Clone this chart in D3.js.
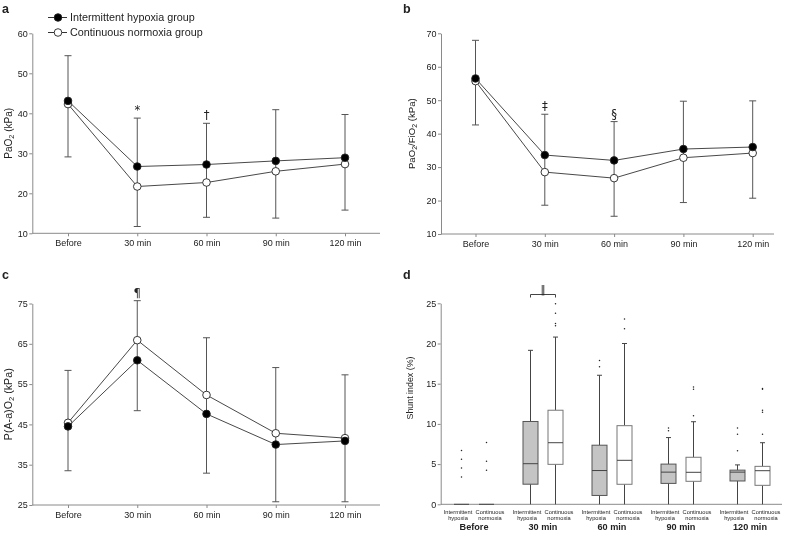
<!DOCTYPE html>
<html><head><meta charset="utf-8">
<script src="https://cdn.jsdelivr.net/npm/d3@7"></script>
<style>
body{margin:0;background:#fff}
svg{display:block;will-change:transform}
text{font-family:"Liberation Sans",Arimo,Arial,sans-serif;fill:#222}
.sym{font-family:"DejaVu Sans",sans-serif}
</style>
</head><body>
<svg id="chart" width="788" height="539"></svg>
<script>
// ---------- DATA ----------
const timepoints = ["Before", "30 min", "60 min", "90 min", "120 min"];
const groups = ["Intermittent hypoxia group", "Continuous normoxia group"];

// Panel a: PaO2 (kPa)
const paO2_IH = [43.1, 26.7, 27.2, 28.1, 28.9];
const paO2_CN = [42.3, 21.7, 22.7, 25.5, 27.3];
const paO2_errHigh = [54.4, 38.8, 37.5, 40.9, 39.7];
const paO2_errLow = [29.1, 11.7, 14.0, 13.8, 15.8];
const paO2_ticks = [10, 20, 30, 40, 50, 60];
const paO2_marks = ["", "*", "\u2020", "", ""];

// Panel b: PaO2/FiO2 (kPa)
const pf_IH = [56.5, 33.6, 32.0, 35.4, 36.0];
const pf_CN = [55.7, 28.5, 26.7, 32.8, 34.2];
const pf_errHigh = [67.9, 45.8, 43.6, 49.7, 49.8];
const pf_errLow = [42.6, 18.6, 15.3, 19.4, 20.7];
const pf_ticks = [10, 20, 30, 40, 50, 60, 70];
const pf_marks = ["", "\u2021", "\u00a7", "", ""];

// Panel c: P(A-a)O2 (kPa)
const aa_IH = [44.5, 60.9, 47.6, 40.0, 40.9];
const aa_CN = [45.4, 65.9, 52.3, 42.8, 41.6];
const aa_errHigh = [58.4, 75.7, 66.5, 59.1, 57.3];
const aa_errLow = [33.5, 48.4, 32.9, 25.8, 25.8];
const aa_ticks = [25, 35, 45, 55, 65, 75];
const aa_marks = ["", "\u00b6", "", "", ""];

// Panel d: Shunt index (%) box plots
const shunt_ticks = [0, 5, 10, 15, 20, 25];
const boxLabels = [["Intermittent", "hypoxia"], ["Continuous", "normoxia"]];
const shuntIH_wLow = [0, 0, 0, 0, 0];
const shuntIH_q1 = [0, 2.5, 1.1, 2.6, 2.9];
const shuntIH_med = [0, 5.05, 4.2, 4.0, 4.0];
const shuntIH_q3 = [0, 10.3, 7.35, 5.0, 4.25];
const shuntIH_wHigh = [0, 19.15, 16.05, 8.3, 4.9];
const shuntIH_out = [[6.7, 5.6, 4.5, 3.4], [], [17.9, 17.1], [9.5, 9.15], [9.5, 8.7, 6.65]];
const shuntCN_wLow = [0, 0, 0, 0, 0];
const shuntCN_q1 = [0, 4.97, 2.49, 2.86, 2.36];
const shuntCN_med = [0, 7.66, 5.47, 3.98, 4.18];
const shuntCN_q3 = [0, 11.7, 9.78, 5.85, 4.72];
const shuntCN_wHigh = [0, 20.8, 20.0, 10.27, 7.66];
const shuntCN_out = [[7.7, 5.35, 4.25], [24.95, 23.75, 22.5, 22.2], [23.05, 21.85], [14.6, 14.3, 11.0], [14.4, 14.3, 11.7, 11.45, 8.7]];
const shunt_sigPair = ["30 min", "\u2016"];

// ---------- DRAW ----------
const svg = d3.select("#chart");
const AXIS = "#8a8a8a", LINE = "#333", ERR = "#555";

// scale a text selection's font-size so the first node spans the wanted width
function fit(sel, width) {
  const n = sel.node();
  if (!n) return;
  const fs = parseFloat(n.getAttribute("font-size")) || 10;
  const w = n.getComputedTextLength();
  if (w > 0) {
    const k = width / w;
    sel.each(function () {
      const f = parseFloat(this.getAttribute("font-size")) || fs;
      this.setAttribute("font-size", (f * k).toFixed(2));
      d3.select(this).selectAll("tspan").each(function () {
        const tf = this.getAttribute("font-size");
        if (tf) this.setAttribute("font-size", (parseFloat(tf) * k).toFixed(2));
      });
    });
  }
}

function yTitle(g, x, y, parts, width) {
  const t = g.append("text").attr("transform", `translate(${x},${y}) rotate(-90)`)
    .attr("text-anchor", "middle").attr("font-size", 10.5);
  parts.forEach(p => {
    if (p.sub) t.append("tspan").attr("font-size", 7.5).attr("dy", 2).text(p.t);
    else t.append("tspan").attr("dy", p.after ? -2 : 0).text(p.t);
  });
  fit(t, width);
}

function panelLetter(x, y, s) {
  svg.append("text").attr("x", x).attr("y", y).attr("font-size", 12.5)
    .attr("font-weight", "bold").text(s);
}

const tickTexts = [];

function linePanel(o) {
  const g = svg.append("g");
  const x = d3.scalePoint().domain(timepoints).range(o.xRange);
  const y = d3.scaleLinear().domain(o.yDomain).range(o.yRange);
  const ya = g.append("g").attr("transform", `translate(${o.axisX[0]},0)`)
    .call(d3.axisLeft(y).tickValues(o.ticks).tickSizeInner(3).tickSizeOuter(0).tickPadding(1.5));
  ya.selectAll("path,line").attr("stroke", AXIS);
  ya.selectAll("text").attr("font-size", 9).attr("fill", "#333");
  const xa = g.append("g").attr("transform", `translate(0,${o.yRange[0]})`)
    .call(d3.axisBottom(x).tickSizeInner(3).tickSizeOuter(0).tickPadding(3.5));
  xa.select(".domain").remove();
  xa.selectAll("line").attr("stroke", AXIS);
  xa.selectAll("text").attr("font-size", 9).attr("fill", "#333");
  ya.attr("font-family", null); xa.attr("font-family", null);
  tickTexts.push(ya.selectAll("text"), xa.selectAll("text"));
  g.append("line").attr("x1", o.axisX[0]).attr("x2", o.axisX[1])
    .attr("y1", o.yRange[0]).attr("y2", o.yRange[0]).attr("stroke", AXIS);

  timepoints.forEach((t, i) => {
    const cx = x(t);
    g.append("line").attr("x1", cx).attr("x2", cx).attr("y1", y(o.lo[i])).attr("y2", y(o.hi[i]))
      .attr("stroke", ERR).attr("stroke-width", 1);
    [o.lo[i], o.hi[i]].forEach(v => g.append("line").attr("x1", cx - 3.5).attr("x2", cx + 3.5)
      .attr("y1", y(v)).attr("y2", y(v)).attr("stroke", ERR).attr("stroke-width", 1));
    if (o.marks[i]) g.append("text").attr("class", "sym").attr("x", cx).attr("y", y(o.hi[i]) - 4)
      .attr("text-anchor", "middle").attr("font-size", 11.5).attr("fill", "#333").text(o.marks[i]);
  });
  const line = d3.line().x((d, i) => x(timepoints[i])).y(d => y(d));
  [o.cn, o.ih].forEach(s => {
    g.append("path").attr("d", line(s)).attr("fill", "none").attr("stroke", LINE).attr("stroke-width", 0.9);
  });
  [o.cn, o.ih].forEach((s, k) => {
    g.selectAll(null).data(s).enter().append("circle")
      .attr("cx", (d, i) => x(timepoints[i])).attr("cy", d => y(d)).attr("r", 3.8)
      .attr("fill", k === 1 ? "#000" : "#fff").attr("stroke", "#222").attr("stroke-width", 0.9);
  });
  yTitle(g, o.titleX, (o.yRange[0] + o.yRange[1]) / 2, o.title, o.titleW);
  return g;
}

linePanel({xRange: [68, 345], axisX: [32.3, 380], yDomain: [10, 60], yRange: [233.3, 33.3],
  ticks: paO2_ticks, ih: paO2_IH, cn: paO2_CN, hi: paO2_errHigh, lo: paO2_errLow, marks: paO2_marks,
  titleX: 11.5, titleW: 51, title: [{t: "PaO"}, {t: "2", sub: true}, {t: " (kPa)", after: true}]});
linePanel({xRange: [475.5, 752.7], axisX: [441, 774], yDomain: [10, 70], yRange: [234, 33.3],
  ticks: pf_ticks, ih: pf_IH, cn: pf_CN, hi: pf_errHigh, lo: pf_errLow, marks: pf_marks,
  titleX: 415, titleW: 71, title: [{t: "PaO"}, {t: "2", sub: true}, {t: "/FiO", after: true}, {t: "2", sub: true}, {t: " (kPa)", after: true}]});
linePanel({xRange: [68, 345], axisX: [32.3, 380], yDomain: [25, 75], yRange: [505, 303.5],
  ticks: aa_ticks, ih: aa_IH, cn: aa_CN, hi: aa_errHigh, lo: aa_errLow, marks: aa_marks,
  titleX: 11.5, titleW: 72, title: [{t: "P(A-a)O"}, {t: "2", sub: true}, {t: " (kPa)", after: true}]});

// legend (panel a)
const legTexts = [];
groups.forEach((name, k) => {
  const ly = 17.5 + k * 15;
  svg.append("line").attr("x1", 48).attr("x2", 67).attr("y1", ly).attr("y2", ly).attr("stroke", LINE);
  svg.append("circle").attr("cx", 58).attr("cy", ly).attr("r", 3.8)
    .attr("fill", k === 0 ? "#000" : "#fff").attr("stroke", "#222").attr("stroke-width", 0.9);
  legTexts.push(svg.append("text").attr("x", 70).attr("y", ly + 3.8).attr("font-size", 10.8).attr("fill", "#222").text(name).node());
});
fit(d3.selectAll(legTexts), 125);

panelLetter(2, 13, "a");
panelLetter(403, 13, "b");
panelLetter(2, 279, "c");
panelLetter(403, 279, "d");

// ---------- Panel d ----------
(function () {
  const g = svg.append("g");
  const xg = d3.scalePoint().domain(timepoints).range([474, 750]);
  const y = d3.scaleLinear().domain([0, 25]).range([504.3, 303.3]);
  const ya = g.append("g").attr("transform", "translate(440.7,0)")
    .call(d3.axisLeft(y).tickValues(shunt_ticks).tickSizeInner(3).tickSizeOuter(0).tickPadding(1.5));
  ya.selectAll("path,line").attr("stroke", AXIS);
  ya.selectAll("text").attr("font-size", 9).attr("fill", "#333");
  ya.attr("font-family", null);
  tickTexts.push(ya.selectAll("text"));
  g.append("line").attr("x1", 440.7).attr("x2", 782).attr("y1", y(0)).attr("y2", y(0)).attr("stroke", AXIS);

  const series = [
    {wl: shuntIH_wLow, q1: shuntIH_q1, med: shuntIH_med, q3: shuntIH_q3, wh: shuntIH_wHigh, out: shuntIH_out, fill: "#c4c4c4", stroke: "#555", off: -12.5, loff: -16},
    {wl: shuntCN_wLow, q1: shuntCN_q1, med: shuntCN_med, q3: shuntCN_q3, wh: shuntCN_wHigh, out: shuntCN_out, fill: "#fff", stroke: "#777", off: 12.5, loff: 16}
  ];
  const bw = 15;
  const small = [], big = [];
  timepoints.forEach((t, i) => {
    series.forEach((s, k) => {
      const cx = xg(t) + s.off;
      g.append("line").attr("x1", cx).attr("x2", cx).attr("y1", y(s.wl[i])).attr("y2", y(s.q1[i])).attr("stroke", "#444");
      g.append("line").attr("x1", cx).attr("x2", cx).attr("y1", y(s.q3[i])).attr("y2", y(s.wh[i])).attr("stroke", "#444");
      if (s.wh[i] > s.q3[i]) g.append("line").attr("x1", cx - 2.5).attr("x2", cx + 2.5)
        .attr("y1", y(s.wh[i])).attr("y2", y(s.wh[i])).attr("stroke", "#444");
      g.append("rect").attr("x", cx - bw / 2).attr("width", bw)
        .attr("y", y(s.q3[i])).attr("height", Math.max(0, y(s.q1[i]) - y(s.q3[i])))
        .attr("fill", s.fill).attr("stroke", s.stroke).attr("stroke-width", 1);
      g.append("line").attr("x1", cx - bw / 2).attr("x2", cx + bw / 2)
        .attr("y1", y(s.med[i])).attr("y2", y(s.med[i])).attr("stroke", "#444").attr("stroke-width", 1);
      g.selectAll(null).data(s.out[i]).enter().append("circle")
        .attr("cx", cx).attr("cy", d => y(d)).attr("r", 0.75).attr("fill", "#222");
      boxLabels[k].forEach((l, j) => small.push(g.append("text").attr("x", xg(t) + s.loff).attr("y", 514.3 + j * 5.2)
        .attr("text-anchor", "middle").attr("font-size", 5.3).attr("fill", "#333").text(l).node()));
    });
    big.push(g.append("text").attr("x", xg(t)).attr("y", 530).attr("text-anchor", "middle")
      .attr("font-size", 9.5).attr("font-weight", "bold").attr("fill", "#222").text(t).node());
  });
  fit(d3.selectAll(small), 28.5);
  fit(d3.selectAll([big[1]].concat(big.filter((b, i) => i !== 1))), 29);

  const bx1 = xg(shunt_sigPair[0]) + series[0].off, bx2 = xg(shunt_sigPair[0]) + series[1].off;
  const by = 294.5;
  g.append("path").attr("d", `M${bx1},${by + 3}V${by}H${bx2}V${by + 3}`).attr("fill", "none").attr("stroke", "#444");
  g.append("text").attr("class", "sym").attr("x", (bx1 + bx2) / 2).attr("y", by - 2).attr("text-anchor", "middle")
    .attr("font-size", 10).attr("fill", "#333").text(shunt_sigPair[1]);

  yTitle(g, 413, 388, [{t: "Shunt index (%)"}], 63);
})();

// tick labels: size so "Before" spans the reference width
(function () {
  const all = [];
  tickTexts.forEach(s => s.each(function () { all.push(this); }));
  const before = all.find(n => n.textContent === "Before");
  const sel = d3.selectAll([before].concat(all.filter(n => n !== before)));
  fit(sel, 26.5);
})();
</script>
</body></html>
